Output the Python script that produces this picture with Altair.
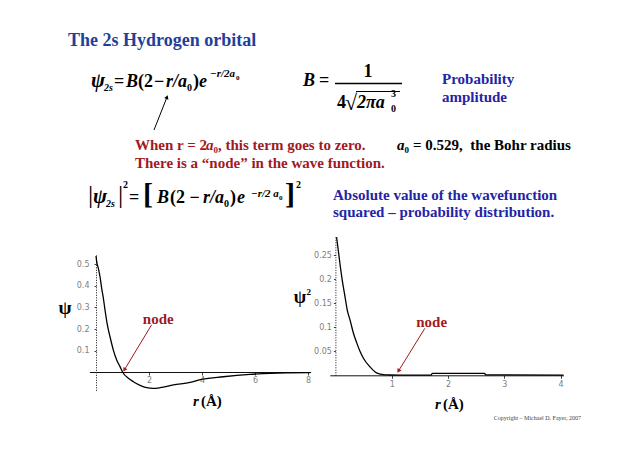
import altair as alt
import pandas as pd

# ---------------- data ----------------
# psi_2s(r), r in Angstrom
r_psi = [0.0, 0.025, 0.088, 0.151, 0.214, 0.277, 0.34, 0.428, 0.528, 0.654, 0.78, 0.906,
         1.006, 1.22, 1.41, 1.66, 1.91, 2.16, 2.42, 2.92, 3.55, 3.99, 4.8, 5.81, 6.57, 8.08]
psi_vals = [0.540, 0.513, 0.482, 0.443, 0.389, 0.343, 0.288, 0.219, 0.164, 0.102, 0.056, 0.025,
            -0.001, -0.029, -0.045, -0.062, -0.073, -0.076, -0.073, -0.060, -0.048, -0.034,
            -0.022, -0.011, -0.006, -0.003]

# |psi_2s|^2(r)
r_psi2 = [0.02, 0.05, 0.08, 0.12, 0.17, 0.21, 0.26, 0.32, 0.38, 0.44, 0.50, 0.61, 0.73,
          0.82, 0.97, 1.15, 1.70, 1.72, 2.65, 2.67, 4.05]
psi2_vals = [0.288, 0.261, 0.233, 0.199, 0.164, 0.136, 0.115, 0.0875, 0.067, 0.049, 0.035,
             0.018, 0.005, 0.002, 0.0006, 0.0003, 0.0005, 0.004, 0.004, 0.0008, 0.0005]

psi_x_ticks = [2, 4, 6, 8]
psi_y_ticks = [0.1, 0.2, 0.3, 0.4, 0.5]
psi2_x_ticks = [1, 2, 3, 4]
psi2_y_ticks = [0.05, 0.1, 0.15, 0.2, 0.25]

node_label = "node"
# node annotation anchors, in data units (label, arrow start, arrow end)
psi_node = {"lx": [2.35], "ly": [0.245], "x0": [2.1], "y0": [0.22], "x1": [1.07], "y1": [0.01]}
psi2_node = {"lx": [1.71], "ly": [0.112], "x0": [1.59], "y0": [0.098], "x1": [1.12], "y1": [0.009]}

TITLE = "The 2s Hydrogen orbital"
PROB = ["Probability", "amplitude"]
BOHR = "= 0.529,\u00a0 the Bohr radius"
RED_1 = ["When r = 2", "a", "0", ", this term goes to zero."]
RED_2 = "There is a \u201cnode\u201d in the wave function."
ABS = ["Absolute value of the wavefunction", "squared \u2013 probability distribution."]
COPY = "Copyright \u2013 Michael D. Fayer, 2007"

# ---------------- styling ----------------
SERIF = "Liberation Serif"
RED = "#a11a1f"
BLUE_T = "#1f3f9c"
BLUE = "#2424a6"


def T(s, x, y, size=15, color="black", weight="bold", style="normal", align="left", font=SERIF):
    return alt.Chart(pd.DataFrame({"t": [s]})).mark_text(
        align=align, baseline="alphabetic", font=font, fontSize=size,
        fontWeight=weight, fontStyle=style, color=color
    ).encode(x=alt.value(x - 8), y=alt.value(y - 8), text="t:N")


def R(x0, y0, x1, y1, color="black", w=1.0):
    return alt.Chart(pd.DataFrame({"a": [0]})).mark_rule(color=color, strokeWidth=w).encode(
        x=alt.value(x0 - 8), y=alt.value(y0 - 8), x2=alt.value(x1 - 8), y2=alt.value(y1 - 8))


def H(x, y, angle, color="black", size=20):
    return alt.Chart(pd.DataFrame({"a": [0]})).mark_point(
        shape="triangle-up", filled=True, size=size, angle=angle, color=color, opacity=1
    ).encode(x=alt.value(x - 8), y=alt.value(y - 8))


axis_common = dict(title=None, grid=False, domainColor="#111", domainWidth=1,
                   tickColor="#111", tickWidth=0.8, labelFont="DejaVu Sans", labelFontSize=8,
                   labelColor="#808080", format="~g", labelFlush=False, labelOverlap=False)

# ---------------- left panel: psi ----------------
sx_l = alt.Scale(domain=[-0.25, 8.1], range=[81.4, 302.65], nice=False, zero=False)
sy_l = alt.Scale(domain=[-0.085, 0.545], range=[382.3, 246.8], nice=False, zero=False)
ax_lx = alt.Axis(orient="bottom", offset=-72, values=psi_x_ticks, tickSize=3, labelPadding=1,
                 **axis_common)
ax_ly = alt.Axis(orient="left", offset=-88, values=psi_y_ticks, tickSize=2, labelPadding=5,
                 domainDash=[1, 1.5], **axis_common)

left_curve = alt.Chart(pd.DataFrame({"r": r_psi, "v": psi_vals})).mark_line(
    color="black", strokeWidth=1.3, interpolate="monotone"
).encode(x=alt.X("r:Q", scale=sx_l, axis=ax_lx), y=alt.Y("v:Q", scale=sy_l, axis=ax_ly))

df_ln = pd.DataFrame(dict(psi_node, t=[node_label]))
left_rule = alt.Chart(df_ln).mark_rule(color=RED, strokeWidth=1).encode(
    x=alt.X("x0:Q", scale=sx_l, axis=ax_lx), y=alt.Y("y0:Q", scale=sy_l, axis=ax_ly),
    x2="x1:Q", y2="y1:Q")
left_head = alt.Chart(df_ln).mark_point(shape="triangle-up", filled=True, size=22, angle=211,
                                        color=RED, opacity=1).encode(
    x=alt.X("x1:Q", scale=sx_l, axis=ax_lx), y=alt.Y("y1:Q", scale=sy_l, axis=ax_ly))
left_lab = alt.Chart(df_ln).mark_text(font=SERIF, fontWeight="bold", fontSize=15, color=RED,
                                      baseline="middle").encode(
    x=alt.X("lx:Q", scale=sx_l, axis=ax_lx), y=alt.Y("ly:Q", scale=sy_l, axis=ax_ly), text="t:N")
left = alt.layer(left_curve, left_rule, left_head, left_lab)

# ---------------- right panel: psi^2 ----------------
sx_r = alt.Scale(domain=[-0.1, 4.05], range=[321.8, 555.4], nice=False, zero=False)
sy_r = alt.Scale(domain=[0, 0.29], range=[367.3, 228.1], nice=False, zero=False)
ax_rx = alt.Axis(orient="bottom", offset=-68.7, values=psi2_x_ticks, tickSize=3, labelPadding=2,
                 **axis_common)
ax_ry = alt.Axis(orient="left", offset=-327.4, values=psi2_y_ticks, tickSize=2, labelPadding=2,
                 domainDash=[1, 1.5], **axis_common)

right_curve = alt.Chart(pd.DataFrame({"r": r_psi2, "v": psi2_vals})).mark_line(
    color="black", strokeWidth=1.3, interpolate="monotone"
).encode(x=alt.X("r:Q", scale=sx_r, axis=ax_rx), y=alt.Y("v:Q", scale=sy_r, axis=ax_ry))

df_rn = pd.DataFrame(dict(psi2_node, t=[node_label]))
right_rule = alt.Chart(df_rn).mark_rule(color=RED, strokeWidth=1).encode(
    x=alt.X("x0:Q", scale=sx_r, axis=ax_rx), y=alt.Y("y0:Q", scale=sy_r, axis=ax_ry),
    x2="x1:Q", y2="y1:Q")
right_head = alt.Chart(df_rn).mark_point(shape="triangle-up", filled=True, size=22, angle=212,
                                         color=RED, opacity=1).encode(
    x=alt.X("x1:Q", scale=sx_r, axis=ax_rx), y=alt.Y("y1:Q", scale=sy_r, axis=ax_ry))
right_lab = alt.Chart(df_rn).mark_text(font=SERIF, fontWeight="bold", fontSize=15, color=RED,
                                       baseline="middle").encode(
    x=alt.X("lx:Q", scale=sx_r, axis=ax_rx), y=alt.Y("ly:Q", scale=sy_r, axis=ax_ry), text="t:N")
right = alt.layer(right_curve, right_rule, right_head, right_lab)

# ---------------- slide text ----------------
texts = [
    T(TITLE, 68, 46, 18, color=BLUE_T),
    # psi_2s = B(2 - r/a0) e^{-r/2a0}
    T("\u03c8", 91, 87, 21, style="italic"),
    T("2s", 104, 91, 10, style="italic"),
    T("=", 114, 87, 18),
    T("B", 126, 87, 18, style="italic"),
    T("(2", 138, 87, 18),
    T("\u2212", 154, 87, 18),
    T("r/a", 166, 87, 18, style="italic"),
    T("0", 187, 91, 10),
    T(")", 193, 87, 18),
    T("e", 199, 87, 18, style="italic"),
    T("\u2212r/2a", 210, 77, 11, style="italic"),
    T("0", 236, 80, 7),
    # B = 1 / (4 sqrt(2 pi a0^3))
    T("B", 303, 86, 18, style="italic"),
    T("=", 319, 86, 18),
    T("1", 368, 77, 18, align="center"),
    R(335, 83.5, 402, 83.5, w=1.5),
    T("4", 337, 108, 18),
    T("\u221a", 345, 110, 22),
    R(356, 91.5, 400, 91.5, w=1.2),
    T("2\u03c0a", 357, 108, 18, style="italic"),
    T("3", 391, 97, 10),
    T("0", 391, 112, 10),
    T(PROB[0], 442, 84, 15, color=BLUE),
    T(PROB[1], 442, 102, 15, color=BLUE),
    # a0 = 0.529
    T("a", 397, 150, 15, style="italic"),
    T("0", 404.5, 153, 9),
    T(BOHR, 413, 150, 15),
    # red note
    T(RED_1[0], 135, 150, 15, color=RED),
    T(RED_1[1], 206, 150, 15, color=RED, style="italic"),
    T(RED_1[2], 213.5, 153, 9, color=RED),
    T(RED_1[3], 218, 150, 15, color=RED),
    T(RED_2, 135, 168, 15, color=RED),
    R(154, 130, 167, 97.1),
    H(167, 97.1, 22),
    # |psi|^2 = [ ... ]^2
    T("|", 88, 203, 26, weight="normal"),
    T("\u03c8", 93, 203, 21, style="italic"),
    T("2s", 106, 207, 10, style="italic"),
    T("|", 118, 203, 26, weight="normal"),
    T("2", 123, 188, 10),
    T("=", 129, 203, 18),
    T("[", 143, 204, 30),
    T("B", 157, 203, 18, style="italic"),
    T("(2 \u2212", 170, 203, 18),
    T("r/a", 203, 203, 18, style="italic"),
    T("0", 224, 207, 10),
    T(")", 230, 203, 18),
    T("e", 237, 203, 18, style="italic"),
    T("\u2212r/2\u00a0a", 251, 197, 11, style="italic"),
    T("0", 279, 200, 7),
    T("]", 285, 204, 30),
    T("2", 296, 188, 10),
    T(ABS[0], 333, 200, 15, color=BLUE),
    T(ABS[1], 333, 217, 15, color=BLUE),
    # axis titles
    T("\u03c8", 65, 314, 19, align="center"),
    T("\u03c8", 300, 303, 18, align="center"),
    T("2", 306.5, 295, 9),
    T("r", 193, 406, 15, style="italic"),
    T("(\u00c5)", 201, 406, 15),
    T("r", 435, 409, 15, style="italic"),
    T("(\u00c5)", 443, 409, 15),
    T(COPY, 581, 420, 6, color="#444", weight="normal", align="right"),
]

chart = alt.layer(left, right, *texts).resolve_scale(
    x="independent", y="independent"
).properties(
    width=622, height=436, padding=0, background="white",
    autosize=alt.AutoSizeParams(type="none")
).configure_view(strokeWidth=0, stroke="transparent")

chart.save("out.html", embed_options={"renderer": "svg", "actions": False})
